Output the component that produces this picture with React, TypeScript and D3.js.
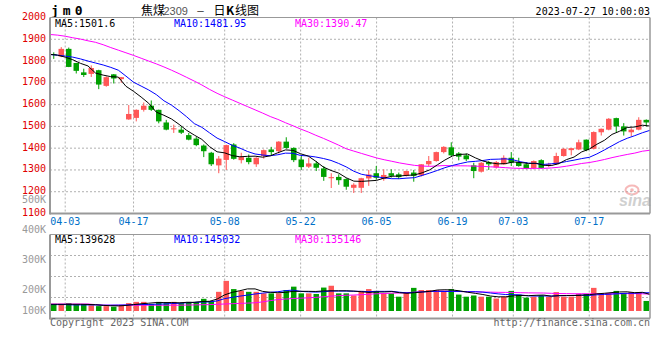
import React from "react";
import * as d3 from "d3";

// trading days shown (2023)
const dates = [
  "03-30", "03-31",
  "04-03", "04-04", "04-06", "04-07", "04-10", "04-11", "04-12", "04-13", "04-14", "04-17", "04-18", "04-19", "04-20", "04-21", "04-24", "04-25", "04-26", "04-27", "04-28",
  "05-04", "05-05", "05-08", "05-09", "05-10", "05-11", "05-12", "05-15", "05-16", "05-17", "05-18", "05-19", "05-22", "05-23", "05-24", "05-25", "05-26", "05-29", "05-30", "05-31",
  "06-01", "06-02", "06-05", "06-06", "06-07", "06-08", "06-09", "06-12", "06-13", "06-14", "06-15", "06-16", "06-19", "06-20", "06-21", "06-26", "06-27", "06-28", "06-29", "06-30",
  "07-03", "07-04", "07-05", "07-06", "07-07", "07-10", "07-11", "07-12", "07-13", "07-14", "07-17", "07-18", "07-19", "07-20", "07-21", "07-24", "07-25", "07-26", "07-27",
];

const opens = [
  1832, 1821, 1856, 1791, 1748, 1741, 1758, 1686, 1739, 1717,
  1532, 1539, 1576, 1595, 1576, 1518, 1489, 1485, 1460, 1444,
  1412, 1379, 1321, 1346, 1417, 1345, 1356, 1326, 1364, 1394,
  1386, 1430, 1401, 1348, 1315, 1330, 1307, 1262, 1268, 1258,
  1218, 1218, 1261, 1285, 1258, 1285, 1280, 1273, 1288, 1275,
  1326, 1341, 1382, 1404, 1376, 1367, 1321, 1292, 1336, 1311,
  1326, 1356, 1336, 1326, 1309, 1345, 1318, 1326, 1364, 1391,
  1394, 1439, 1397, 1473, 1485, 1538, 1500, 1473, 1485, 1530,
];
const highs = [
  1840, 1864, 1862, 1792, 1765, 1780, 1760, 1730, 1740, 1727,
  1598, 1578, 1610, 1619, 1577, 1530, 1508, 1500, 1470, 1451,
  1417, 1383, 1364, 1416, 1423, 1379, 1371, 1358, 1394, 1406,
  1432, 1450, 1404, 1364, 1356, 1341, 1318, 1285, 1280, 1262,
  1239, 1264, 1300, 1318, 1303, 1303, 1288, 1297, 1300, 1327,
  1364, 1384, 1409, 1427, 1382, 1376, 1333, 1336, 1341, 1341,
  1367, 1382, 1356, 1336, 1344, 1349, 1333, 1379, 1401, 1401,
  1439, 1440, 1477, 1490, 1538, 1540, 1515, 1492, 1542, 1532,
];
const lows = [
  1810, 1818, 1772, 1743, 1727, 1727, 1671, 1682, 1697, 1700,
  1530, 1523, 1568, 1571, 1514, 1482, 1470, 1465, 1436, 1409,
  1359, 1318, 1285, 1300, 1347, 1330, 1326, 1314, 1352, 1364,
  1376, 1397, 1336, 1300, 1309, 1295, 1250, 1217, 1232, 1209,
  1194, 1194, 1227, 1255, 1250, 1265, 1258, 1270, 1246, 1270,
  1318, 1338, 1376, 1364, 1344, 1341, 1262, 1288, 1300, 1306,
  1324, 1318, 1315, 1303, 1303, 1306, 1313, 1323, 1361, 1367,
  1391, 1386, 1394, 1458, 1482, 1473, 1458, 1455, 1482, 1500,
];
const closes = [
  1828, 1856, 1773, 1755, 1736, 1768, 1692, 1726, 1720, 1726,
  1557, 1576, 1595, 1576, 1523, 1485, 1491, 1471, 1439, 1414,
  1386, 1326, 1352, 1414, 1351, 1359, 1336, 1356, 1391, 1382,
  1430, 1401, 1345, 1313, 1330, 1310, 1268, 1267, 1253, 1223,
  1232, 1262, 1279, 1264, 1277, 1273, 1267, 1295, 1273, 1326,
  1341, 1382, 1406, 1367, 1361, 1349, 1295, 1333, 1326, 1336,
  1356, 1333, 1318, 1306, 1341, 1309, 1326, 1364, 1397, 1400,
  1427, 1391, 1474, 1489, 1535, 1500, 1477, 1485, 1530, 1518,
];

const ma5 = [
  1831, 1827, 1818, 1806, 1789.6, 1777.6, 1744.8, 1735.4, 1728.4, 1726.4,
  1684.2, 1661, 1634.8, 1606, 1565.4, 1551, 1534, 1509.2, 1481.8, 1460,
  1440.2, 1407.2, 1383.4, 1378.4, 1365.8, 1360.4, 1362.4, 1363.2, 1358.6, 1364.8,
  1379, 1392, 1389.8, 1374.2, 1363.8, 1339.8, 1313.2, 1297.6, 1285.6, 1264.2,
  1248.6, 1247.4, 1249.8, 1252, 1262.8, 1271, 1272, 1275.2, 1277, 1286.8,
  1300.4, 1323.4, 1345.6, 1364.4, 1371.4, 1373, 1355.6, 1341, 1332.8, 1327.8,
  1329.2, 1336.8, 1333.8, 1329.8, 1330.8, 1321.4, 1320, 1329.2, 1347.4, 1359.2,
  1382.8, 1395.8, 1417.8, 1436.2, 1463.2, 1477.8, 1495, 1497.2, 1505.4, 1501.6,
];
const ma10 = [
  1830, 1827, 1823, 1818, 1810, 1800, 1791, 1782, 1771, 1758,
  1730.9, 1702.9, 1685.1, 1667.2, 1645.9, 1617.6, 1597.5, 1572, 1543.9, 1512.7,
  1495.6, 1470.6, 1446.3, 1430.1, 1412.9, 1400.3, 1384.8, 1373.3, 1368.5, 1365.3,
  1369.7, 1377.2, 1376.5, 1366.4, 1364.3, 1359.4, 1352.6, 1343.7, 1329.9, 1314,
  1294.2, 1280.3, 1273.7, 1268.8, 1263.5, 1259.8, 1259.7, 1262.5, 1264.5, 1274.8,
  1285.7, 1297.7, 1310.4, 1320.7, 1329.1, 1336.7, 1339.5, 1343.3, 1348.6, 1349.6,
  1351.1, 1346.2, 1337.4, 1331.3, 1329.3, 1325.3, 1328.4, 1331.5, 1338.6, 1345,
  1352.1, 1357.9, 1373.5, 1391.8, 1411.2, 1430.3, 1445.4, 1457.5, 1470.8, 1481.95,
];
const ma30 = [
  1922, 1919, 1914, 1907, 1901, 1893, 1886, 1875, 1862, 1850,
  1838, 1826, 1813, 1800, 1787, 1773, 1758, 1742, 1725, 1708,
  1690, 1670, 1652, 1636, 1621, 1606, 1591, 1576, 1561, 1545.3,
  1532.1, 1516.9, 1502.6, 1487.9, 1474.4, 1459.1, 1445, 1429.7, 1414.1, 1397.3,
  1386.5, 1376, 1365.5, 1355.1, 1346.9, 1339.8, 1332.4, 1326.5, 1321, 1318,
  1316.5, 1318.4, 1320.2, 1318.6, 1319, 1318.6, 1317.3, 1316.5, 1314.3, 1312.8,
  1310.3, 1308.1, 1307.2, 1306.9, 1307.3, 1307.3, 1309.2, 1312.4, 1317.2, 1323.1,
  1329.6, 1333.9, 1340.4, 1347.9, 1356.5, 1364.1, 1371.1, 1377.4, 1386, 1390.47,
];

const volumes = [
  106000, 106000, 111000, 106000, 106000, 104000, 101000, 101000, 99000, 104000,
  111000, 115000, 115000, 108000, 115000, 111000, 115000, 111000, 115000, 115000,
  125000, 118000, 148000, 184000, 157000, 151000, 148000, 148000, 143000, 143000,
  143000, 154000, 165000, 143000, 143000, 141000, 162000, 168000, 143000, 143000,
  136000, 151000, 157000, 151000, 143000, 143000, 132000, 147000, 161000, 154000,
  154000, 154000, 151000, 157000, 139000, 132000, 136000, 132000, 132000, 126000,
  132000, 151000, 139000, 129000, 132000, 136000, 132000, 147000, 132000, 132000,
  141000, 141000, 161000, 141000, 144000, 151000, 143000, 147000, 147000, 118000,
];
const volMa5 = [
  107000, 107000, 107000, 107000, 107000, 106600, 105600, 103600, 102200, 101800,
  103200, 106000, 108800, 110600, 112800, 112800, 112800, 112000, 113400, 113400,
  116200, 116800, 124200, 138000, 146400, 151600, 157600, 157600, 149400, 146600,
  145000, 146200, 149600, 149600, 149600, 149200, 150800, 151400, 151400, 151400,
  150400, 148200, 146000, 147600, 147600, 149000, 145200, 143200, 145200, 147400,
  149600, 154000, 154800, 154000, 151000, 146600, 143000, 139200, 134200, 131600,
  131600, 134600, 136000, 135400, 136600, 137400, 133600, 135200, 135800, 135800,
  136800, 138600, 141400, 143200, 145600, 147600, 148000, 145200, 146400, 139628,
];
const volMa10 = [
  106000, 106000, 106000, 105000, 105000, 105000, 105000, 104000, 104000, 104400,
  104900, 105800, 106200, 106400, 107300, 108000, 109400, 110400, 112000, 113100,
  114500, 114800, 118100, 125700, 129900, 133900, 137200, 140900, 143700, 146500,
  148300, 151900, 153600, 149500, 148100, 147100, 148500, 150500, 150500, 150500,
  149800, 149500, 148700, 149500, 149500, 149700, 146700, 144600, 146400, 147500,
  149300, 149600, 149000, 149600, 149200, 148100, 148500, 147000, 144100, 141300,
  139100, 138800, 137600, 134800, 134100, 134500, 134100, 135600, 135600, 136200,
  137100, 136100, 138300, 139500, 140700, 142200, 143300, 143300, 144800, 145032,
];
const volMa30 = [
  108000, 108000, 108000, 108000, 108000, 108000, 106000, 104000, 104000, 104000,
  104000, 104000, 104000, 104000, 104000, 104000, 104000, 104000, 104500, 105000,
  105500, 106000, 107000, 108000, 109000, 110000, 111000, 112000, 115000, 119000,
  122600, 124200, 126000, 127200, 128400, 129700, 131700, 133900, 135400, 136700,
  137500, 138700, 140100, 141600, 142500, 143600, 144100, 145300, 146900, 148200,
  149100, 150300, 150400, 149500, 148900, 148300, 147900, 147400, 147000, 146400,
  146100, 146000, 145100, 144600, 144300, 144100, 143100, 142400, 142000, 141700,
  141800, 141500, 141600, 141300, 141300, 141600, 142000, 142000, 141500, 140300,
];

const priceTicks = [1100, 1200, 1300, 1400, 1500, 1600, 1700, 1800, 1900, 2000];
const volTicks = [100000, 200000, 300000, 400000, 500000];
const dateTicks = ["04-03", "04-17", "05-08", "05-22", "06-05", "06-19", "07-03", "07-17"];

const RED = "#ff5757";
const GREEN = "#00a000";
const GRID = "#b0b0b0";
const FRAME = "#999";
const MONO = "'DejaVu Sans Mono', monospace";
const CJK = "'Noto Sans CJK SC', sans-serif";

export default function App() {
  const L = 50, R = 650;
  const pTop = 17.5, pBot = 213.5;
  const vTop = 234.5, vBot = 318.5;

  const xBand = d3.scaleBand<string>().domain(dates).range([L, R]).paddingInner(0.27).paddingOuter(0.135);
  const xPt = d3.scalePoint<string>().domain(dates).range([L, R]);
  const yP = d3.scaleLinear().domain([1100, 2000]).range([pBot, pTop]);
  const yV = d3.scaleLinear().domain([85000, 200000]).range([311, 276]);
  const yVLab = d3.scaleLinear().domain([0, 500000]).range([353.3, 203.3]);
  const bw = xBand.bandwidth();

  const pLine = d3.line<number>().x((_, i) => xPt(dates[i]) as number).y((v) => yP(v));
  const vLine = d3.line<number>().x((_, i) => xPt(dates[i]) as number).y((v) => yV(v));

  const vGrid = d3.range(1, 4).map((k) => vTop + (k * (vBot - vTop)) / 4);

  return (
    <svg width={660} height={360} style={{ position: "absolute", left: 0, top: 0 }} fontFamily={MONO} fontSize={10}>
      <rect width={660} height={360} fill="#fff" />

      {/* header */}
      <text x={51} y={15} fontSize={13} fontWeight="bold" letterSpacing={4} fill="#000">jm0</text>
      <text y={15} fontFamily={CJK} fontSize={12} fill="#000">
        <tspan x={141}>焦煤</tspan>
        <tspan x={163.5} fill="#555" fontFamily="'Liberation Sans', sans-serif" fontSize={11}>2309</tspan>
        <tspan x={196} fontSize={9}>－</tspan>
        <tspan x={213.5}>日</tspan>
        <tspan x={226} fontWeight="bold">K</tspan>
        <tspan x={235}>线图</tspan>
      </text>
      <text x={650} y={15} textAnchor="end" fill="#000">2023-07-27 10:00:03</text>

      {/* price panel grid */}
      {priceTicks.filter((t) => t > 1100 && t < 2000).map((t) => (
        <line key={t} x1={L} x2={R} y1={yP(t)} y2={yP(t)} stroke={GRID} strokeDasharray="2,2" />
      ))}
      {dateTicks.map((d) => (
        <line key={d} x1={xPt(d)} x2={xPt(d)} y1={pTop} y2={pBot} stroke={GRID} strokeDasharray="2,2" />
      ))}

      {/* watermark */}
      <g opacity={0.55}>
        <ellipse cx={632} cy={190} rx={6.5} ry={4.5} fill="none" stroke="#f08080" strokeWidth={2} />
        <circle cx={632} cy={190} r={1.8} fill="#f08080" />
        <text x={619} y={206} fontFamily="'Liberation Sans', sans-serif" fontStyle="italic" fontWeight="bold" fontSize={16} fill="#aaa">sina</text>
      </g>

      {/* axis labels */}
      {priceTicks.map((t) => (
        <text key={t} x={46} y={yP(t) + 2.5} textAnchor="end" fill="#e00000">{t}</text>
      ))}
      {volTicks.map((t) => (
        <text key={t} x={46} y={Math.min(yVLab(t), vBot - 5)} textAnchor="end" fill="#999">{t / 1000}K</text>
      ))}

      {/* candles */}
      {dates.map((d, i) => {
        const up = closes[i] >= opens[i];
        const c = up ? RED : GREEN;
        const cx = (xBand(d) as number) + bw / 2;
        const top = yP(Math.max(opens[i], closes[i]));
        const bot = yP(Math.min(opens[i], closes[i]));
        return (
          <g key={d}>
            <line x1={cx} x2={cx} y1={yP(highs[i])} y2={yP(lows[i])} stroke={c} strokeWidth={1} />
            <rect x={xBand(d)} y={top} width={bw} height={Math.max(1, bot - top)} fill={c} />
          </g>
        );
      })}

      {/* MA lines */}
      <path d={pLine(ma30) as string} fill="none" stroke="#ff00ff" strokeWidth={1} />
      <path d={pLine(ma10) as string} fill="none" stroke="#0000ff" strokeWidth={1} />
      <path d={pLine(ma5) as string} fill="none" stroke="#000" strokeWidth={1} />

      {/* price frame */}
      <line x1={L} x2={R} y1={pTop} y2={pTop} stroke={FRAME} />
      <line x1={R} x2={R} y1={pTop} y2={pBot} stroke={FRAME} strokeWidth={1.5} />
      <line x1={L} x2={L} y1={pTop} y2={pBot + 1} stroke={FRAME} strokeWidth={2} />
      <line x1={L} x2={R} y1={pBot} y2={pBot} stroke={FRAME} strokeWidth={2} />

      <text x={55} y={pTop + 9} fill="#000">MA5:1501.6</text>
      <text x={174} y={pTop + 9} fill="#0000ff">MA10:1481.95</text>
      <text x={295} y={pTop + 9} fill="#ff00ff">MA30:1390.47</text>

      {/* date labels */}
      {dateTicks.map((d) => (
        <text key={d} x={xPt(d)} y={225} textAnchor="middle" fill="#0070c8">{d}</text>
      ))}

      {/* volume panel grid */}
      {vGrid.map((y) => (
        <line key={y} x1={L} x2={R} y1={y} y2={y} stroke={GRID} strokeDasharray="2,2" />
      ))}
      {dateTicks.map((d) => (
        <line key={d} x1={xPt(d)} x2={xPt(d)} y1={vTop} y2={vBot} stroke={GRID} strokeDasharray="2,2" />
      ))}

      {/* volume bars */}
      {dates.map((d, i) => (
        <rect key={d} x={xBand(d)} y={yV(volumes[i])} width={bw} height={yV(85000) - yV(volumes[i])}
          fill={closes[i] >= opens[i] ? RED : GREEN} />
      ))}

      <path d={vLine(volMa30) as string} fill="none" stroke="#ff00ff" strokeWidth={1} />
      <path d={vLine(volMa10) as string} fill="none" stroke="#0000ff" strokeWidth={1} />
      <path d={vLine(volMa5) as string} fill="none" stroke="#000" strokeWidth={1} />

      {/* volume frame */}
      <line x1={L} x2={R} y1={vTop} y2={vTop} stroke={FRAME} />
      <line x1={R} x2={R} y1={vTop} y2={vBot} stroke={FRAME} strokeWidth={1.5} />
      <line x1={L} x2={L} y1={vTop} y2={vBot + 1} stroke={FRAME} strokeWidth={2} />
      <line x1={L} x2={R} y1={vBot} y2={vBot} stroke={FRAME} strokeWidth={2} />

      <text x={55} y={vTop + 8.5} fill="#000">MA5:139628</text>
      <text x={174} y={vTop + 8.5} fill="#0000ff">MA10:145032</text>
      <text x={295} y={vTop + 8.5} fill="#ff00ff">MA30:135146</text>

      <text x={50} y={326} fill="#666">Copyright 2023 SINA.COM</text>
      <text x={650} y={326} textAnchor="end" fill="#666">http://finance.sina.com.cn</text>
    </svg>
  );
}
